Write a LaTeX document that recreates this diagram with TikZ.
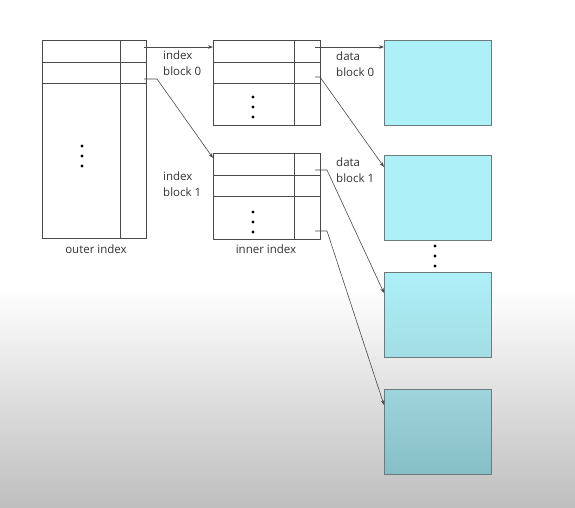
\documentclass[tikz,border=0pt]{standalone}
\usepackage{fontspec}
\setmainfont{Open Sans}
\usetikzlibrary{arrows.meta}
\definecolor{linegray}{HTML}{4A4A4A}
\definecolor{txtgray}{HTML}{333333}
\definecolor{blkedge}{HTML}{6E7A7C}
\definecolor{cyanblk}{HTML}{AEF0F8}
\definecolor{bggray}{HTML}{BEBEBE}

\begin{document}
\begin{tikzpicture}[x=1pt, y=-1pt,
    tbl/.style = {draw=linegray, line width=0.6pt, anchor=north west, inner sep=0pt, outer sep=0pt},
    blk/.style = {draw=blkedge, line width=0.7pt, fill=cyanblk, anchor=north west, inner sep=0pt, outer sep=0pt, minimum width=107, minimum height=85},
    lbl/.style = {anchor=north west, align=left, inner sep=0pt, text=txtgray, font=\fontsize{11.5}{15.5}\selectfont},
    undercap/.style = {anchor=north, inner sep=0pt, text=txtgray, font=\fontsize{11.5}{12}\selectfont},
    arr/.style = {draw=linegray, line width=0.6pt, -{Stealth[length=5pt, width=3.6pt]}}]
    \useasboundingbox (0,0) rectangle (575,508);
    \fill[white] (0,0) rectangle (575,287);
    \shade[top color=white, bottom color=bggray] (0,287) rectangle (575,508);

    \node[tbl, minimum width=104, minimum height=198] (outer) at (42,40) {};
    \node[tbl, minimum width=107, minimum height=85] (ib0) at (213,40) {};
    \node[tbl, minimum width=107, minimum height=86] (ib1) at (213,153) {};
    \foreach \t in {outer,ib0,ib1} {
        \draw[linegray, line width=0.6pt] ([xshift=-26pt]\t.north east) -- ([xshift=-26pt]\t.south east);
        \foreach \d in {22,43}
            \draw[linegray, line width=0.6pt] ([yshift=-\d pt]\t.north west) -- ([yshift=-\d pt]\t.north east);
    }

    \node[blk] (db0) at (384,40) {};
    \node[blk] (db1) at (384,155) {};
    \node[blk, top color=cyanblk, bottom color={rgb,255:red,163;green,221;blue,229}] (db2) at (384,272) {};
    \node[blk, top color={rgb,255:red,158;green,212;blue,219}, bottom color={rgb,255:red,134;green,191;blue,197}] (db3) at (384,389) {};

    \foreach \y in {146,156,166} \fill (82,\y) circle (1.6);
    \foreach \y in {97,107,117} \fill (253,\y) circle (1.6);
    \foreach \y in {212,222,232} \fill (253,\y) circle (1.6);
    \foreach \y in {246,256,266} \fill (435,\y) circle (1.6);

    \node[lbl] (l0) at (163,51) {index\\block 0};
    \node[lbl] (l1) at (163,172) {index\\block 1};
    \node[lbl] (d0) at (336,52) {data\\block 0};
    \node[lbl] (d1) at (336,158) {data\\block 1};
    \node[undercap] (oc) at (96,245) {outer index};
    \node[undercap] (ic) at (266,245) {inner index};

    \coordinate (o0) at (144,47);
    \coordinate (o1) at (144,79);
    \coordinate (i0) at (315,47);
    \coordinate (i1) at (315,77);
    \coordinate (j0) at (315,170);
    \coordinate (j1) at (315,231);
    \draw[arr] (o0) -- (o0 -| ib0.west);
    \draw[arr] (o1) -- ++(13,0) -- ([yshift=-5pt]ib1.north west);
    \draw[arr] (i0) -- (i0 -| db0.west);
    \draw[arr] (i1) -- ++(5,0) -- ([yshift=-12pt]db1.north west);
    \draw[arr] (j0) -- ++(12,0) -- ([yshift=-21pt]db2.north west);
    \draw[arr] (j1) -- ++(12,0) -- ([yshift=-16pt]db3.north west);
\end{tikzpicture}
\end{document}
